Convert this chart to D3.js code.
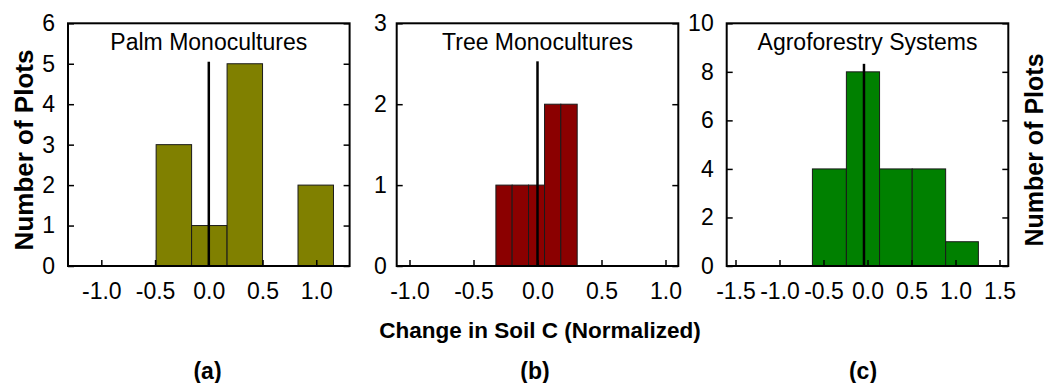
<!DOCTYPE html>
<html>
<head>
<meta charset="utf-8">
<script src="https://cdn.jsdelivr.net/npm/d3@7"></script>
<style>
  body { margin: 0; background: #fff; }
  text { font-family: "Liberation Sans", Arial, sans-serif; fill: #000; }
</style>
</head>
<body>
<svg id="chart" width="1048" height="383"></svg>
<script>
// bin edges (left edge of each bar plus final right edge) and counts
var palmEdges = [-0.49, -0.16, 0.17, 0.50, 0.83, 1.16];
var palmCounts = [3, 1, 5, 0, 2];
var treeEdges = [-0.325, -0.198, -0.07, 0.055, 0.182, 0.31];
var treeCounts = [1, 1, 1, 2, 2];
var agroEdges = [-0.626, -0.24, 0.137, 0.508, 0.888, 1.26];
var agroCounts = [4, 8, 4, 4, 1];

var titles = ["Palm Monocultures", "Tree Monocultures", "Agroforestry Systems"];
var panelLabels = ["(a)", "(b)", "(c)"];
var xDomains = [[-1.31, 1.31], [-1.1, 1.1], [-1.6, 1.6]];
var xTicks = [[-1.0, -0.5, 0.0, 0.5, 1.0], [-1.0, -0.5, 0.0, 0.5, 1.0], [-1.5, -1.0, -0.5, 0.0, 0.5, 1.0, 1.5]];
var yMax = [6, 3, 10];
var yTicks = [[0, 1, 2, 3, 4, 5, 6], [0, 1, 2, 3], [0, 2, 4, 6, 8, 10]];
// vertical reference line: x position and top value
var refX = [0, 0, -0.04];
var refTop = [5.05, 2.53, 8.33];
var colours = ["#808000", "#8b0000", "#008000"];

var svg = d3.select("#chart");

var panels = [
  {edges: palmEdges, counts: palmCounts, left: 68, pad: 13},
  {edges: treeEdges, counts: treeCounts, left: 396.7, pad: 10},
  {edges: agroEdges, counts: agroCounts, left: 726.7, pad: 13}
];

var plotTop = 23.3, plotBottom = 266, boxW = 281.6;
var innerH = plotBottom - plotTop;

panels.forEach(function(p, i) {
  var x = d3.scaleLinear().domain(xDomains[i]).range([0, boxW]);
  var y = d3.scaleLinear().domain([0, yMax[i]]).range([innerH, 0]);

  var g = svg.append("g").attr("transform", `translate(${p.left},${plotTop})`);

  var bins = p.counts.map((c, k) => ({x0: p.edges[k], x1: p.edges[k + 1], n: c}));

  g.selectAll("rect.bar").data(bins.filter(d => d.n > 0))
    .enter().append("rect")
    .attr("class", "bar")
    .attr("x", d => x(d.x0))
    .attr("width", d => x(d.x1) - x(d.x0))
    .attr("y", d => y(d.n))
    .attr("height", d => y(0) - y(d.n))
    .attr("fill", colours[i])
    .attr("stroke", "#1a1a1a")
    .attr("stroke-width", 1);

  // reference line
  g.append("line")
    .attr("x1", x(refX[i])).attr("x2", x(refX[i]))
    .attr("y1", y(refTop[i])).attr("y2", y(0))
    .attr("stroke", "#000").attr("stroke-width", 2.5);

  // left axis with inward ticks
  var yAxisL = d3.axisLeft(y).tickValues(yTicks[i]).tickSize(-6).tickPadding(p.pad).tickFormat(d3.format("d"));
  var yl = g.append("g").call(yAxisL);
  yl.select(".domain").remove();
  yl.selectAll("line").attr("stroke", "#000").attr("stroke-width", 1.5);
  yl.selectAll("text").style("font-size", "23px");

  // right side ticks, no labels
  var yr = g.append("g").attr("transform", `translate(${boxW},0)`)
    .call(d3.axisRight(y).tickValues(yTicks[i]).tickSize(-6).tickFormat(""));
  yr.select(".domain").remove();
  yr.selectAll("line").attr("stroke", "#000").attr("stroke-width", 1.5);

  var xAxis = d3.axisBottom(x).tickValues(xTicks[i]).tickSize(-6).tickPadding(17);
  var xg = g.append("g").attr("transform", `translate(0,${innerH})`).call(xAxis);
  xg.select(".domain").remove();
  xg.selectAll("line").attr("stroke", "#000").attr("stroke-width", 1.5);
  xg.selectAll("text").style("font-size", "23px").text(d => d3.format(".1f")(d).replace("−", "-"));

  // frame
  g.append("rect")
    .attr("x", 0).attr("y", 0).attr("width", boxW).attr("height", innerH)
    .attr("fill", "none").attr("stroke", "#000").attr("stroke-width", 2);

  g.append("text")
    .attr("x", boxW / 2).attr("y", 50 - plotTop)
    .attr("text-anchor", "middle")
    .style("font-size", "23px")
    .text(titles[i]);

  svg.append("text")
    .attr("x", [207.5, 535, 863][i]).attr("y", 379)
    .attr("text-anchor", "middle")
    .style("font-size", "23px").style("font-weight", "bold")
    .text(panelLabels[i]);
});

svg.append("text")
  .attr("x", 540).attr("y", 338)
  .attr("text-anchor", "middle")
  .style("font-size", "22.5px").style("font-weight", "bold")
  .text("Change in Soil C (Normalized)");

svg.append("text")
  .attr("transform", "translate(33,150) rotate(-90)")
  .attr("text-anchor", "middle")
  .style("font-size", "26px").style("font-weight", "bold")
  .text("Number of Plots");

svg.append("text")
  .attr("transform", "translate(1043,150) rotate(-90)")
  .attr("text-anchor", "middle")
  .style("font-size", "25px").style("font-weight", "bold")
  .text("Number of Plots");
</script>
</body>
</html>
